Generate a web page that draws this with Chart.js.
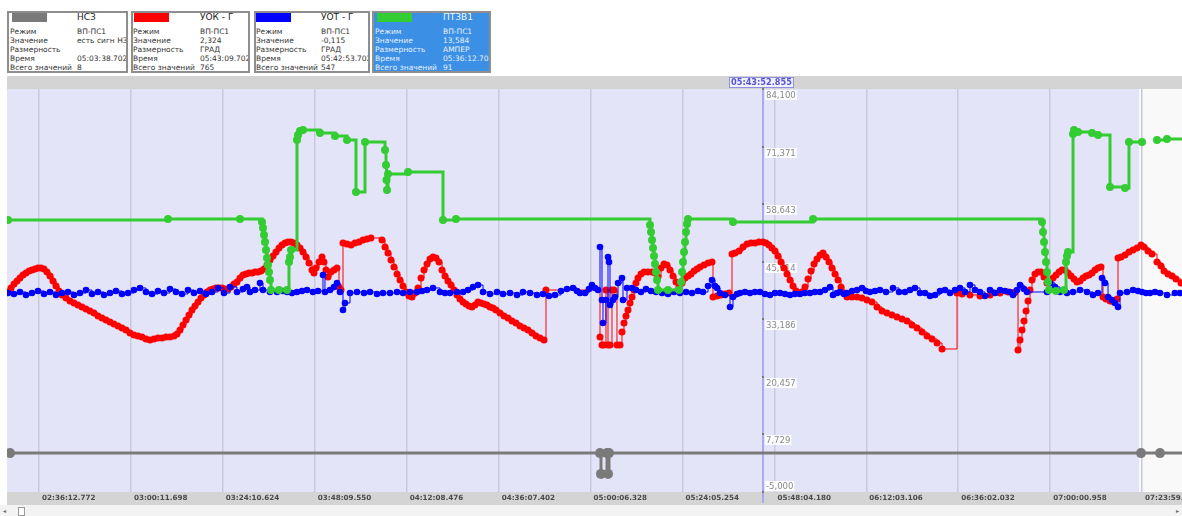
<!DOCTYPE html>
<html>
<head>
<meta charset="utf-8">
<script src="https://cdn.jsdelivr.net/npm/chart.js@4.4.1/dist/chart.umd.min.js"></script>
<style>
    html, body { margin: 0; padding: 0; background: #fff; overflow: hidden; }
    body { width: 1182px; height: 516px; position: relative; font-family: "DejaVu Sans", sans-serif; }
    .card { position: absolute; top: 11px; height: 62px; border: 2px solid #8e8e8e; background: #fff;
            box-sizing: border-box; overflow: hidden; font-size: 7.5px; color: #333; }
    .card.sel { background: #3b8fe4; color: #e6f1ff; }
    .card .sw { position: absolute; top: 0; width: 35px; height: 9px; }
    .card .ttl { position: absolute; top: -1px; font-size: 9px; line-height: 11px; color: #222; white-space: nowrap; }
    .card.sel .ttl { color: #f4f9ff; }
    .card .row { position: absolute; line-height: 9px; white-space: nowrap; }
    #wrap { position: absolute; left: 7px; top: 76px; width: 1175px; height: 429px; }
    #scroll { position: absolute; left: 0; top: 505px; width: 1182px; height: 11px; background: #f3f3f3; }
    #thumb { position: absolute; left: 18px; top: 2px; width: 5px; height: 7px; border: 1px solid #9a9a9a; background: #fff; }
    .arr { position: absolute; top: 1px; font-size: 6px; line-height: 9px; color: #666; }
</style>
</head>
<body>
<div id="legend"></div>
<div id="wrap"><canvas id="trend" width="1175" height="429"></canvas></div>
<div id="scroll"><span class="arr" style="left:3px">◂</span><div id="thumb"></div><span class="arr" style="left:1176px">▸</span></div>
<script>
// time axis in minutes since midnight, values in device units
const xTickLabels = ['02:36:12.772', '03:00:11.698', '03:24:10.624', '03:48:09.550', '04:12:08.476', '04:36:07.402',
    '05:00:06.328', '05:24:05.254', '05:48:04.180', '06:12:03.106', '06:36:02.032', '07:00:00.958', '07:23:59.884'];
const yTickLabels = ['-5,000', '7,729', '20,457', '33,186', '45,914', '58,643', '71,371', '84,100'];
const viewStart = 147.86;
const viewEnd = 454.41;
const shadeEnd = 443.2;
const cursorTime = 345.10;
const cursorLabel = '05:43:52.855';

// legend panel
const legendNames = ['НСЗ', 'УОК - Г', 'УОТ - Г', 'ПТЗВ1'];
const legendModes = ['ВП-ПС1', 'ВП-ПС1', 'ВП-ПС1', 'ВП-ПС1'];
const legendValues = ['есть сигн НЗ', '2,324', '-0,115', '13,584'];
const legendUnits = ['', 'ГРАД', 'ГРАД', 'АМПЕР'];
const legendTimes = ['05:03:38.702', '05:43:09.702', '05:42:53.702', '05:36:12.702'];
const legendCounts = [8, 765, 547, 91];
const rowNames = ['Режим', 'Значение', 'Размерность', 'Время', 'Всего значений'];

// НСЗ
const graySeries = [[148.64, 3.6], [302.57, 3.6], [302.83, -1.0], [304.40, 3.6], [304.66, -1.0], [304.92, 3.6],
    [443.72, 3.6], [448.67, 3.6]];

// ПТЗВ1
const greenSeries = [
    [148.12, 55.14], [189.86, 55.36], [208.65, 55.36], [214.39, 54.70], [214.65, 53.37], [214.91, 51.82], [215.17, 50.27],
    [215.43, 48.50], [215.69, 46.74], [215.95, 45.19], [216.21, 43.64], [216.47, 41.87], [216.73, 39.66], [218.82, 39.66],
    [220.91, 39.66], [221.43, 45.85], [221.69, 46.96], [221.95, 48.50], [223.52, 72.83], [223.78, 73.93], [224.30, 74.82],
    [225.08, 75.04], [229.52, 74.37], [233.43, 73.71], [236.56, 72.83], [238.91, 61.33], [241.26, 72.38], [246.48, 70.61],
    [246.74, 67.30], [246.87, 63.98], [247.00, 61.77], [247.26, 65.31], [252.48, 65.75], [261.61, 55.14], [265.00, 55.36],
    [315.62, 54.03], [315.88, 52.48], [316.14, 50.72], [316.40, 48.95], [316.66, 47.18], [316.92, 45.41], [317.18, 43.64],
    [317.44, 41.87], [317.70, 39.66], [320.31, 39.66], [323.18, 39.66], [323.71, 41.43], [323.97, 43.64], [324.23, 45.85],
    [324.49, 48.06], [324.75, 50.27], [325.01, 52.48], [325.27, 54.25], [325.53, 55.36], [337.27, 54.70], [358.15, 55.36],
    [417.89, 54.70], [418.15, 52.48], [418.41, 50.27], [418.67, 48.06], [418.93, 45.85], [419.19, 43.64], [419.45, 41.43],
    [419.71, 39.66], [421.54, 39.44], [423.63, 39.66], [424.15, 45.85], [424.41, 47.18], [424.67, 48.06], [425.98, 74.15],
    [426.24, 75.04], [427.28, 74.60], [430.93, 74.37], [432.50, 73.93], [435.63, 62.43], [439.54, 62.21], [440.58, 72.38],
    [443.98, 72.38], [445.5, null], [447.89, 72.83], [450.50, 73.05]];

// УОТ - Г
const blueSeries = [
    [148.12, 39.00], [149.68, 38.78], [151.25, 39.22], [152.81, 38.56], [154.38, 39.00], [155.94, 39.44], [157.51, 38.78],
    [159.08, 39.22], [160.64, 38.56], [162.21, 39.00], [163.77, 39.22], [165.34, 38.56], [166.90, 39.00], [168.47, 39.66],
    [170.03, 38.78], [171.60, 39.22], [173.16, 38.56], [174.73, 39.00], [176.29, 39.44], [177.86, 38.78], [179.43, 39.00],
    [180.99, 39.66], [182.56, 40.11], [184.12, 39.22], [185.69, 38.78], [187.25, 39.44], [188.82, 39.00], [190.38, 39.88],
    [191.95, 39.22], [193.51, 38.78], [195.08, 39.66], [196.64, 39.00], [198.21, 39.44], [199.78, 38.78], [201.34, 39.22],
    [202.91, 40.11], [204.47, 39.00], [206.04, 40.33], [207.86, 39.22], [209.43, 39.88], [210.47, 40.33], [211.26, 39.22],
    [212.56, 39.66], [213.86, 41.21], [214.65, 39.66], [216.47, 39.22], [218.30, 39.22], [219.86, 39.44], [220.91, 39.22],
    [222.21, 39.00], [223.52, 39.22], [224.82, 39.44], [226.13, 39.66], [227.69, 39.22], [229.00, 39.44], [230.30, 42.98],
    [230.82, 39.22], [232.13, 39.66], [233.17, 40.33], [233.95, 41.21], [234.74, 39.22], [235.52, 35.24], [236.04, 36.79],
    [237.35, 39.00], [239.17, 39.22], [241.00, 39.00], [242.56, 39.22], [244.39, 38.78], [245.95, 39.00], [247.78, 39.00],
    [249.61, 39.22], [251.17, 39.00], [253.00, 39.22], [254.83, 39.22], [256.13, 39.44], [257.43, 39.66], [259.00, 40.11],
    [260.83, 39.22], [262.13, 39.00], [263.44, 39.00], [265.26, 39.22], [266.83, 39.22], [268.13, 39.66], [269.44, 40.33],
    [270.74, 40.77], [272.05, 39.22], [273.87, 38.78], [275.70, 39.22], [277.26, 38.78], [279.09, 39.00], [280.91, 38.56],
    [282.48, 39.22], [284.31, 39.00], [286.13, 38.56], [287.70, 38.78], [289.26, 38.34], [290.83, 38.56], [292.39, 39.44],
    [293.96, 39.88], [295.53, 40.11], [296.57, 39.44], [297.35, 39.00], [298.66, 39.00], [299.70, 39.88], [300.48, 40.77],
    [301.27, 40.11], [302.05, 39.66], [302.57, 49.17], [303.09, 37.45], [303.35, 32.37], [304.13, 37.45], [304.66, 46.96],
    [304.92, 45.85], [305.18, 36.35], [305.96, 37.45], [306.48, 38.12], [307.27, 41.21], [308.31, 42.32], [308.57, 37.45],
    [309.61, 40.11], [310.92, 40.11], [311.96, 39.66], [313.26, 39.22], [314.57, 39.88], [315.88, 39.44], [317.18, 39.22],
    [318.75, 39.00], [320.31, 38.78], [321.88, 39.22], [323.44, 39.00], [325.01, 39.22], [326.57, 39.00], [328.14, 39.44],
    [329.44, 39.22], [330.75, 40.55], [331.79, 41.87], [332.57, 40.55], [333.10, 40.11], [333.88, 39.00], [335.18, 38.56],
    [336.49, 35.91], [337.27, 38.12], [338.31, 38.78], [339.10, 39.00], [340.40, 39.22], [341.71, 39.00], [343.01, 39.22],
    [344.31, 39.22], [345.62, 38.78], [346.92, 38.56], [348.23, 39.00], [349.53, 39.00], [350.84, 38.78], [352.14, 38.56],
    [353.45, 38.78], [354.75, 38.78], [356.05, 39.00], [357.36, 39.00], [358.66, 39.22], [359.97, 39.22], [361.27, 39.66],
    [362.58, 40.33], [363.36, 38.56], [364.41, 39.00], [365.19, 39.22], [366.23, 38.78], [367.01, 39.00], [368.32, 39.44],
    [369.62, 39.66], [370.93, 40.11], [371.97, 39.44], [373.01, 39.22], [374.32, 39.44], [375.62, 39.66], [377.19, 39.22],
    [379.01, 40.11], [380.58, 39.22], [382.14, 39.22], [383.45, 39.66], [384.75, 40.11], [386.06, 39.00], [387.36, 39.00],
    [388.67, 38.34], [389.97, 38.56], [391.28, 39.44], [392.58, 39.66], [393.89, 39.00], [395.19, 39.66], [396.49, 40.11],
    [397.80, 39.22], [399.10, 40.77], [400.41, 39.66], [401.71, 39.22], [403.02, 38.34], [404.32, 39.66], [405.63, 39.00],
    [406.93, 39.66], [408.23, 39.44], [409.54, 39.22], [410.32, 38.56], [411.37, 39.66], [412.15, 40.77], [413.19, 39.88],
    [413.98, 39.22], [419.19, 39.22], [419.98, 41.21], [421.28, 40.33], [422.58, 39.22], [424.41, 39.00], [425.98, 39.22],
    [427.80, 39.66], [429.63, 39.22], [431.19, 38.56], [432.50, 39.00], [433.54, 42.32], [434.32, 41.21], [435.11, 38.12],
    [436.15, 37.45], [436.93, 36.79], [437.72, 35.91], [438.24, 39.00], [440.06, 39.22], [441.63, 39.66], [442.93, 39.44],
    [443.98, 39.22], [445.02, 39.00], [446.07, 39.00], [447.37, 39.22], [448.67, 39.00], [450.50, 38.56], [452.54, 39.00],
    [453.85, 39.00]];

// УОК - Г
const redSeries = [
    [148.12, 39.22], [148.90, 40.11], [149.68, 40.99], [150.47, 41.65], [151.25, 42.32], [152.03, 42.98], [152.81, 43.42],
    [153.60, 43.86], [154.38, 44.08], [155.16, 44.30], [155.94, 44.53], [156.73, 44.53], [157.51, 44.30], [158.29, 43.64],
    [159.08, 42.76], [159.86, 41.65], [160.64, 40.55], [161.42, 39.44], [162.21, 38.56], [163.25, 37.89], [164.29, 37.23],
    [165.34, 36.79], [166.38, 36.35], [167.42, 35.91], [168.47, 35.46], [169.51, 35.02], [170.55, 34.58], [171.60, 33.92],
    [172.64, 33.47], [173.69, 33.03], [174.73, 32.59], [175.77, 32.15], [176.82, 31.71], [177.86, 31.26], [178.90, 30.82],
    [179.95, 30.16], [180.99, 29.72], [182.03, 29.49], [183.08, 29.27], [184.12, 28.83], [185.17, 28.61], [186.21, 28.83],
    [187.25, 29.05], [188.30, 29.05], [189.34, 29.27], [190.38, 29.27], [191.43, 29.49], [192.21, 29.94], [192.99, 30.82],
    [193.77, 31.93], [194.56, 33.03], [195.34, 34.14], [196.12, 35.24], [196.91, 36.13], [197.69, 37.01], [198.47, 37.89],
    [199.25, 38.56], [200.04, 39.22], [200.82, 39.66], [201.60, 39.88], [202.38, 40.11], [203.17, 40.11], [203.95, 40.11],
    [204.73, 39.88], [205.52, 39.88], [206.30, 40.33], [207.08, 40.99], [207.86, 41.43], [208.65, 42.32], [209.43, 42.98],
    [210.21, 43.20], [210.99, 43.42], [211.78, 43.42], [212.56, 43.64], [213.34, 43.64], [214.12, 43.86], [214.91, 44.30],
    [215.69, 45.19], [216.47, 46.29], [217.26, 47.18], [218.04, 48.06], [218.82, 48.95], [219.60, 49.61], [220.39, 50.05],
    [221.17, 50.27], [221.95, 50.27], [222.73, 50.05], [223.52, 49.61], [224.30, 48.95], [225.08, 48.06], [225.87, 46.96],
    [226.65, 45.63], [227.43, 44.08], [227.95, 43.42], [228.47, 44.53], [229.26, 45.85], [230.04, 46.96], [230.56, 45.85],
    [231.08, 44.08], [231.61, 42.54], [232.39, 43.64], [233.17, 44.08], [233.95, 44.53], [234.48, 40.33], [235.00, 39.66],
    [235.52, 50.05], [236.56, 49.83], [237.61, 49.61], [238.65, 50.05], [239.69, 50.27], [240.74, 50.72], [241.78, 50.94],
    [242.82, 51.16], [245.69, 50.72], [246.48, 49.17], [247.26, 47.84], [248.04, 46.29], [248.82, 44.75], [249.61, 43.20],
    [250.39, 41.87], [251.17, 40.55], [251.96, 39.22], [252.74, 38.34], [253.52, 38.12], [254.30, 39.00], [255.09, 40.11],
    [255.87, 42.32], [256.65, 44.08], [257.43, 45.41], [258.22, 46.51], [259.00, 46.96], [259.78, 46.74], [260.57, 45.85],
    [261.35, 44.08], [262.13, 42.76], [262.91, 41.65], [263.70, 40.77], [264.48, 39.66], [265.26, 38.56], [266.04, 37.67],
    [266.83, 37.01], [267.61, 36.57], [268.39, 36.13], [269.17, 35.91], [269.96, 36.35], [270.74, 37.01], [271.52, 36.79],
    [272.31, 36.57], [273.09, 36.35], [273.87, 35.91], [274.65, 35.68], [275.44, 35.24], [276.48, 34.58], [277.52, 33.92],
    [278.57, 33.47], [279.61, 32.81], [280.65, 32.37], [281.70, 31.71], [282.74, 31.26], [283.79, 30.82], [284.83, 30.16],
    [285.87, 29.49], [286.92, 29.05], [287.96, 28.61], [288.48, 39.66],
    [302.57, 29.27], [303.09, 27.50], [303.61, 27.50], [304.13, 39.66], [304.66, 27.50], [305.18, 27.50], [305.70, 39.66],
    [306.22, 39.66], [307.00, 27.50], [307.79, 27.50], [308.31, 30.38], [308.83, 32.37], [309.35, 33.92], [309.87, 35.24],
    [310.40, 36.79], [310.92, 38.12], [311.44, 39.66], [311.96, 41.21], [312.48, 42.32], [313.26, 43.20], [314.05, 43.64],
    [315.09, 43.64], [316.14, 43.64], [316.92, 43.42], [317.70, 42.54], [318.49, 44.53], [319.27, 45.41], [320.05, 45.19],
    [320.83, 44.08], [321.62, 42.76], [322.40, 41.43], [323.18, 40.33], [323.97, 41.21], [324.75, 42.32], [325.53, 42.76],
    [326.31, 43.20], [327.10, 43.86], [327.88, 44.30], [328.66, 44.75], [329.70, 45.19], [330.75, 45.63], [331.79, 45.85],
    [332.05, 38.12], [333.10, 38.34], [334.14, 38.56], [335.18, 38.78], [336.23, 39.00], [337.01, 47.62], [337.79, 47.84],
    [338.84, 48.28], [339.88, 49.17], [340.92, 49.83], [341.97, 50.05], [343.01, 50.05], [344.05, 50.27], [345.10, 50.27],
    [345.88, 50.05], [346.66, 49.61], [347.44, 48.95], [348.23, 48.28], [349.01, 47.18], [349.79, 45.85], [350.57, 44.53],
    [351.36, 43.20], [352.14, 41.87], [352.92, 40.55], [353.70, 39.44], [354.49, 39.00], [355.27, 39.22], [356.05, 40.33],
    [356.84, 42.09], [357.62, 43.86], [358.40, 45.41], [359.18, 46.51], [359.97, 47.40], [360.75, 47.84], [361.53, 46.96],
    [362.31, 45.85], [363.10, 44.53], [363.88, 43.20], [364.66, 41.87], [365.45, 40.33], [366.23, 39.00], [367.01, 38.12],
    [368.32, 38.12], [369.62, 38.12], [370.93, 37.89], [372.23, 37.45], [373.54, 37.01], [374.84, 35.91], [376.15, 35.02],
    [377.45, 34.58], [378.76, 34.14], [380.06, 33.69], [381.37, 33.25], [382.67, 32.81], [383.98, 31.93], [385.28, 31.26],
    [386.59, 30.38], [387.89, 29.49], [389.20, 28.83], [390.50, 27.94], [391.81, 26.62], [395.72, 39.00], [397.03, 38.78],
    [399.10, 38.56], [401.71, 38.34], [404.32, 38.56], [406.93, 39.00], [409.02, 39.22], [410.85, 39.22], [411.63, 26.39],
    [412.15, 28.61], [412.67, 30.82], [413.19, 32.81], [413.72, 35.02], [414.24, 37.23], [414.76, 39.66], [415.28, 41.87],
    [416.06, 43.20], [416.85, 43.64], [417.63, 43.64], [418.41, 42.54], [419.19, 41.21], [419.98, 41.21], [420.76, 42.32],
    [421.54, 42.98], [422.33, 43.64], [423.11, 44.08], [423.89, 44.08], [424.67, 43.42], [425.46, 42.76], [426.24, 42.09],
    [427.02, 41.43], [427.80, 41.65], [428.59, 42.32], [429.37, 42.76], [430.15, 42.98], [430.93, 43.42], [431.72, 44.08],
    [432.50, 44.53], [433.28, 44.75], [433.80, 38.12], [434.59, 37.67], [435.63, 37.23], [436.67, 37.01], [437.46, 37.67],
    [437.72, 46.74], [438.50, 46.96], [439.54, 47.40], [440.58, 48.06], [441.63, 48.50], [442.67, 48.95], [443.72, 49.61],
    [444.50, 49.17], [445.54, 48.28], [446.59, 47.62], [447.89, 45.85], [448.93, 44.97], [449.72, 43.86], [450.76, 43.20],
    [451.81, 42.76], [452.85, 42.09], [454.15, 41.21]];

const colors = { gray: '#7a7a7a', red: '#ff0000', blue: '#0000ff', green: '#33cc33' };
const swatches = [colors.gray, colors.red, colors.blue, colors.green];
const cardBox = [
    { left: 7, width: 121, sw: 3, l: 1, r: 68 },
    { left: 131, width: 119, sw: 1, l: 0, r: 67 },
    { left: 254, width: 116, sw: 0, l: 0, r: 65 },
    { left: 372, width: 119, sw: 3, l: 1, r: 69 }
];

// build the legend cards
const legendEl = document.getElementById('legend');
legendEl.innerHTML = legendNames.map((name, i) => {
    const b = cardBox[i];
    const right = [legendModes[i], legendValues[i], legendUnits[i], legendTimes[i], String(legendCounts[i])];
    const rows = rowNames.map((r, k) => `
        <div class="row" style="top:${13.5 + k * 9}px;left:${b.l}px">${r}</div>
        <div class="row" style="top:${13.5 + k * 9}px;left:${b.r}px">${right[k]}</div>`).join('');
    return `<div class="card${i === 3 ? ' sel' : ''}" style="left:${b.left}px;width:${b.width}px">
        <div class="sw" style="left:${b.sw}px;background:${swatches[i]}"></div>
        <div class="ttl" style="left:${b.r}px">${name}</div>${rows}</div>`;
}).join('');

function parseTime(s) {
    const p = s.split(':');
    return (+p[0]) * 60 + (+p[1]) + parseFloat(p[2]) / 60;
}
const xTickValues = xTickLabels.map(parseTime);
const yTickValues = yTickLabels.map(s => parseFloat(s.replace(',', '.')));

const toPoints = s => s.map(p => ({ x: p[0], y: p[1] }));
// hold the last value up to the right edge of the view
const holdToEnd = s => toPoints(s).concat([{ x: viewEnd, y: s[s.length - 1][1] }]);

function series(label, data, color, width, radius, hideLast) {
    return {
        label: label,
        data: data,
        stepped: true,
        borderColor: color,
        borderWidth: width,
        backgroundColor: color,
        pointBackgroundColor: color,
        pointBorderWidth: 0,
        pointRadius: hideLast ? (c => c.dataIndex === data.length - 1 ? 0 : radius) : radius,
        spanGaps: false
    };
}

// backgrounds, cursor line and the value labels that sit on it
const trendDecor = {
    id: 'trendDecor',
    beforeDraw(chart) {
        const { ctx, chartArea: a, scales: { x } } = chart;
        ctx.save();
        ctx.fillStyle = '#d4d4d4';
        ctx.fillRect(0, 0, chart.width, a.top);
        ctx.fillRect(0, a.bottom, chart.width, chart.height - a.bottom);
        const split = x.getPixelForValue(shadeEnd);
        ctx.fillStyle = '#e4e4f8';
        ctx.fillRect(a.left, a.top, split - a.left, a.bottom - a.top);
        ctx.fillStyle = '#f9f9f9';
        ctx.fillRect(split, a.top, a.right - split, a.bottom - a.top);
        ctx.restore();
    },
    beforeDatasetsDraw(chart) {
        const { ctx, chartArea: a, scales: { x, y } } = chart;
        const cx = Math.round(x.getPixelForValue(cursorTime));
        ctx.save();
        ctx.fillStyle = '#aaaaee';
        ctx.fillRect(cx - 1, a.top, 2, chart.height - 2 - a.top);
        ctx.font = '8.5px "DejaVu Sans", sans-serif';
        ctx.textBaseline = 'top';
        y.ticks.forEach((t, i) => {
            const py = Math.round(y.getPixelForValue(t.value));
            const text = yTickLabels[i];
            const w = ctx.measureText(text).width;
            const top = i === 0 ? py - 11 : py + 1;
            ctx.fillStyle = 'rgba(255,255,255,0.9)';
            ctx.fillRect(cx + 2, top, w + 2, 10);
            ctx.fillStyle = '#8a8a8a';
            ctx.fillText(text, cx + 3, top + 1.5);
            ctx.fillStyle = '#777';
            ctx.fillRect(cx - 1, py - 1, 2, 2);
        });
        ctx.restore();
    },
    afterDraw(chart) {
        const { ctx, chartArea: a, scales: { x } } = chart;
        const cx = Math.round(x.getPixelForValue(cursorTime));
        ctx.save();
        ctx.font = 'bold 8.2px "DejaVu Sans", sans-serif';
        const w = ctx.measureText(cursorLabel).width + 4;
        const bx = Math.round(cx - 2 - w / 2);
        ctx.fillStyle = '#f2f2ff';
        ctx.fillRect(bx, 1, w, a.top - 2);
        ctx.strokeStyle = '#8f8fe0';
        ctx.lineWidth = 1;
        ctx.strokeRect(bx + 0.5, 1.5, w - 1, a.top - 3);
        ctx.fillStyle = '#5454d4';
        ctx.textBaseline = 'middle';
        ctx.fillText(cursorLabel, bx + 2, a.top / 2 + 0.5);
        ctx.restore();
    }
};

new Chart(document.getElementById('trend'), {
    type: 'line',
    data: {
        datasets: [
            series('НСЗ', holdToEnd(graySeries), colors.gray, 3, 5, true),
            series('ПТЗВ1', holdToEnd(greenSeries), colors.green, 3, 4, true),
            series('УОТ - Г', toPoints(blueSeries), colors.blue, 1, 3.3, false),
            series('УОК - Г', toPoints(redSeries), colors.red, 1, 3.5, false)
        ]
    },
    options: {
        responsive: false,
        devicePixelRatio: 1,
        animation: false,
        events: [],
        layout: { autoPadding: false, padding: { top: 13, left: 0, right: 0, bottom: 0 } },
        plugins: { legend: { display: false }, tooltip: { enabled: false } },
        scales: {
            x: {
                type: 'linear',
                position: 'bottom',
                min: viewStart,
                max: viewEnd,
                afterBuildTicks: s => { s.ticks = xTickValues.map(v => ({ value: v })); },
                afterFit: s => { s.height = 13; s.paddingLeft = 0; s.paddingRight = 0; },
                grid: { color: '#c9c9dd', lineWidth: 1.5, drawTicks: false },
                border: { display: false },
                ticks: {
                    autoSkip: false,
                    maxRotation: 0,
                    align: 'start',
                    labelOffset: 3,
                    padding: 2,
                    color: '#4a4a4a',
                    font: { family: '"DejaVu Sans", sans-serif', size: 7.2, weight: 'bold' },
                    callback: (v, i) => xTickLabels[i]
                }
            },
            y: {
                display: false,
                min: -5,
                max: 84.1,
                afterBuildTicks: s => { s.ticks = yTickValues.map(v => ({ value: v })); }
            }
        }
    },
    plugins: [trendDecor]
});
</script>
</body>
</html>
